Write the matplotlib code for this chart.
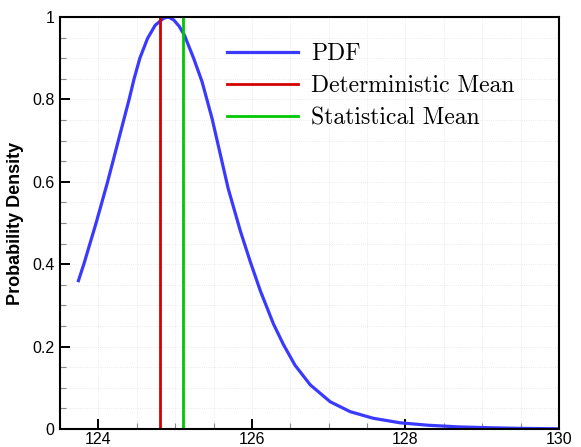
import numpy as np
import matplotlib
matplotlib.use("Agg")
import matplotlib.pyplot as plt
from matplotlib.ticker import MultipleLocator, FormatStrFormatter

# values
pdf_x = [123.74, 123.81, 123.97, 124.12, 124.26, 124.40, 124.465, 124.54, 124.64, 124.74,
         124.85, 124.91, 124.98, 125.05, 125.12, 125.24, 125.35, 125.48, 125.59, 125.69,
         125.85, 125.98, 126.11, 126.28, 126.41, 126.56, 126.76, 127.02, 127.28, 127.58,
         127.93, 128.3, 128.7, 129.1, 129.5, 130.0]
pdf_y = [0.36, 0.40, 0.50, 0.60, 0.70, 0.80, 0.85, 0.90, 0.948, 0.98,
         0.997, 1.0, 0.993, 0.978, 0.956, 0.90, 0.843, 0.754, 0.665, 0.584,
         0.48, 0.405, 0.335, 0.255, 0.205, 0.155, 0.107, 0.066, 0.042, 0.026,
         0.015, 0.009, 0.005, 0.003, 0.0015, 0.0005]
det_mean = 124.8
stat_mean = 125.1

fig = plt.figure(figsize=(5.81, 4.47), dpi=100)
ax = fig.add_axes([0.1033, 0.0403, 0.8589, 0.9217])

ax.plot(pdf_x, pdf_y, color='#3a3aff', lw=2.3, label='PDF')
ax.plot([det_mean, det_mean], [0, 1], color='#d40000', lw=2.0, label='Deterministic Mean')
ax.plot([stat_mean, stat_mean], [0, 1], color='#00c800', lw=2.0, label='Statistical Mean')

ax.set_xlim(123.5, 130)
ax.set_ylim(0, 1)

ax.xaxis.set_major_locator(MultipleLocator(2))
ax.xaxis.set_minor_locator(MultipleLocator(0.5))
ax.yaxis.set_major_locator(MultipleLocator(0.2))
ax.yaxis.set_minor_locator(MultipleLocator(0.05))
ax.yaxis.set_major_formatter(FormatStrFormatter('%g'))

ax.tick_params(which='both', direction='in', top=False, right=False,
               labelsize=11.5, labelfontfamily='Liberation Sans')
ax.tick_params(which='major', length=7, width=1.4, pad=4)
ax.tick_params(axis='x', which='major', pad=2.5)
ax.tick_params(which='minor', length=4, width=0.8, color='#888888')

for s in ax.spines.values():
    s.set_linewidth(1.5)

ax.grid(which='both', color='#e4e4e4', linestyle=':', linewidth=0.6)
ax.set_axisbelow(True)

ax.set_ylabel('Probability Density', fontsize=13, fontweight='bold',
              family='Liberation Sans', labelpad=6)

ax.legend(loc='upper left', bbox_to_anchor=(0.335, 0.937), frameon=False,
          prop={'family': 'cmr10', 'size': 17}, handlelength=3.0,
          handletextpad=0.55, labelspacing=0.43, borderpad=0, borderaxespad=0)

fig.savefig('out.png', dpi=100)
